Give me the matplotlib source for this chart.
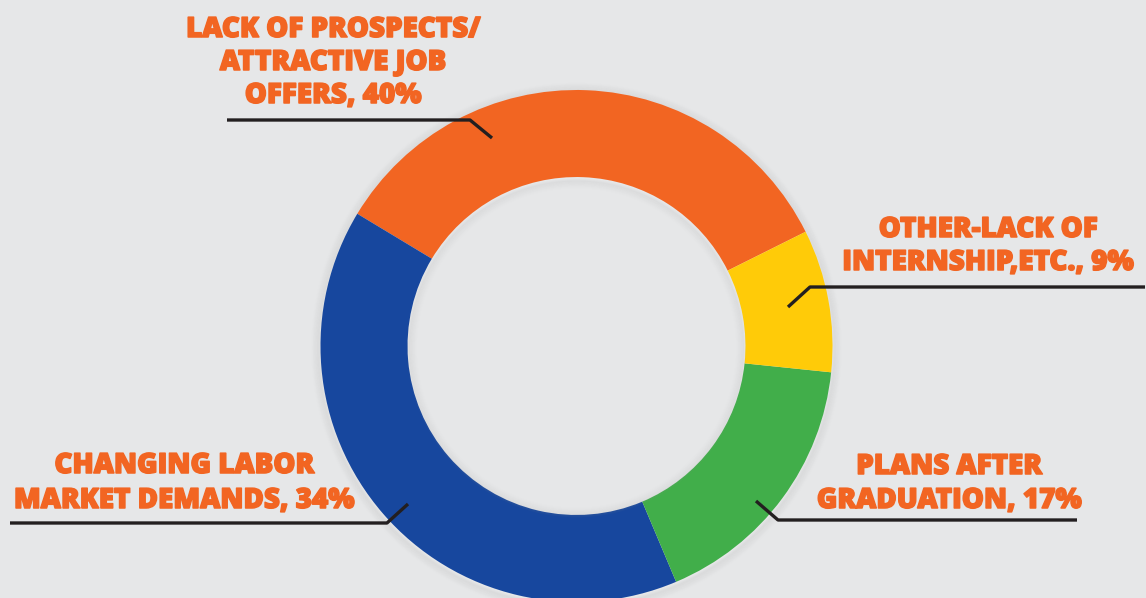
import matplotlib.pyplot as plt
import matplotlib.patheffects as pe
from matplotlib.patches import Circle

shares = [34, 40, 17, 9]
colors = ['#f26522', '#17479e', '#41ae4a', '#ffcb08']

# label texts, exactly as printed on the chart
labels = [
    ['LACK OF PROSPECTS/', 'ATTRACTIVE JOB', 'OFFERS, 40%'],
    ['CHANGING LABOR', 'MARKET DEMANDS, 34%'],
    ['PLANS AFTER', 'GRADUATION, 17%'],
    ['OTHER-LACK OF', 'INTERNSHIP,ETC., 9%'],
]

W, H = 1146, 598
bg = '#e6e7e8'
orange_txt = '#f26522'

# layout in pixels (top-left origin): text centre x, first baseline, line step,
# leader line: far end, elbow, tip
layout = [
    dict(x=333, y0=37, step=33, line=[(227, 120), (470, 120), (492, 138)]),
    dict(x=184, y0=473, step=35, line=[(10, 523), (387, 523), (408, 504)]),
    dict(x=949, y0=474, step=34, line=[(1077, 520), (778, 520), (756, 501)]),
    dict(x=988, y0=237, step=33, line=[(1145, 287), (810, 287), (788, 307)]),
]

fig = plt.figure(figsize=(W / 100, H / 100), dpi=100, facecolor=bg)
ax = fig.add_axes([0, 0, 1, 1])
ax.set_facecolor(bg)

cx, cy, R = 576.5, H - 346, 256
ring = 0.34

# soft shadow round the ring
for k in range(8):
    ax.add_patch(Circle((cx, cy - 2), R + 1 + k, fill=False,
                        edgecolor='#9a9a9a', lw=2, alpha=0.06 * (8 - k) / 8, zorder=1))
    ax.add_patch(Circle((cx, cy - 2), R * (1 - ring) - 1 - k, fill=False,
                        edgecolor='#9a9a9a', lw=2, alpha=0.05 * (8 - k) / 8, zorder=3))

ax.pie(shares, colors=colors, startangle=26.5, counterclock=True,
       center=(cx, cy), radius=R,
       wedgeprops=dict(width=R * ring, linewidth=0, zorder=2))

ax.set_xlim(0, W)
ax.set_ylim(0, H)
ax.set_aspect('equal')
ax.axis('off')

thick = [pe.withStroke(linewidth=1.1, foreground=orange_txt)]
for lines, lay in zip(labels, layout):
    for i, t in enumerate(lines):
        ax.text(lay['x'], H - (lay['y0'] + i * lay['step']), t, ha='center', va='baseline',
                color=orange_txt, fontsize=20, fontweight='heavy',
                family=['Open Sans', 'DejaVu Sans'], path_effects=thick, zorder=5)
    xs = [p[0] for p in lay['line']]
    ys = [H - p[1] for p in lay['line']]
    ax.plot(xs, ys, color='#231f20', lw=2.4, solid_capstyle='butt', zorder=6)

plt.savefig('out.png', dpi=100, facecolor=bg)
